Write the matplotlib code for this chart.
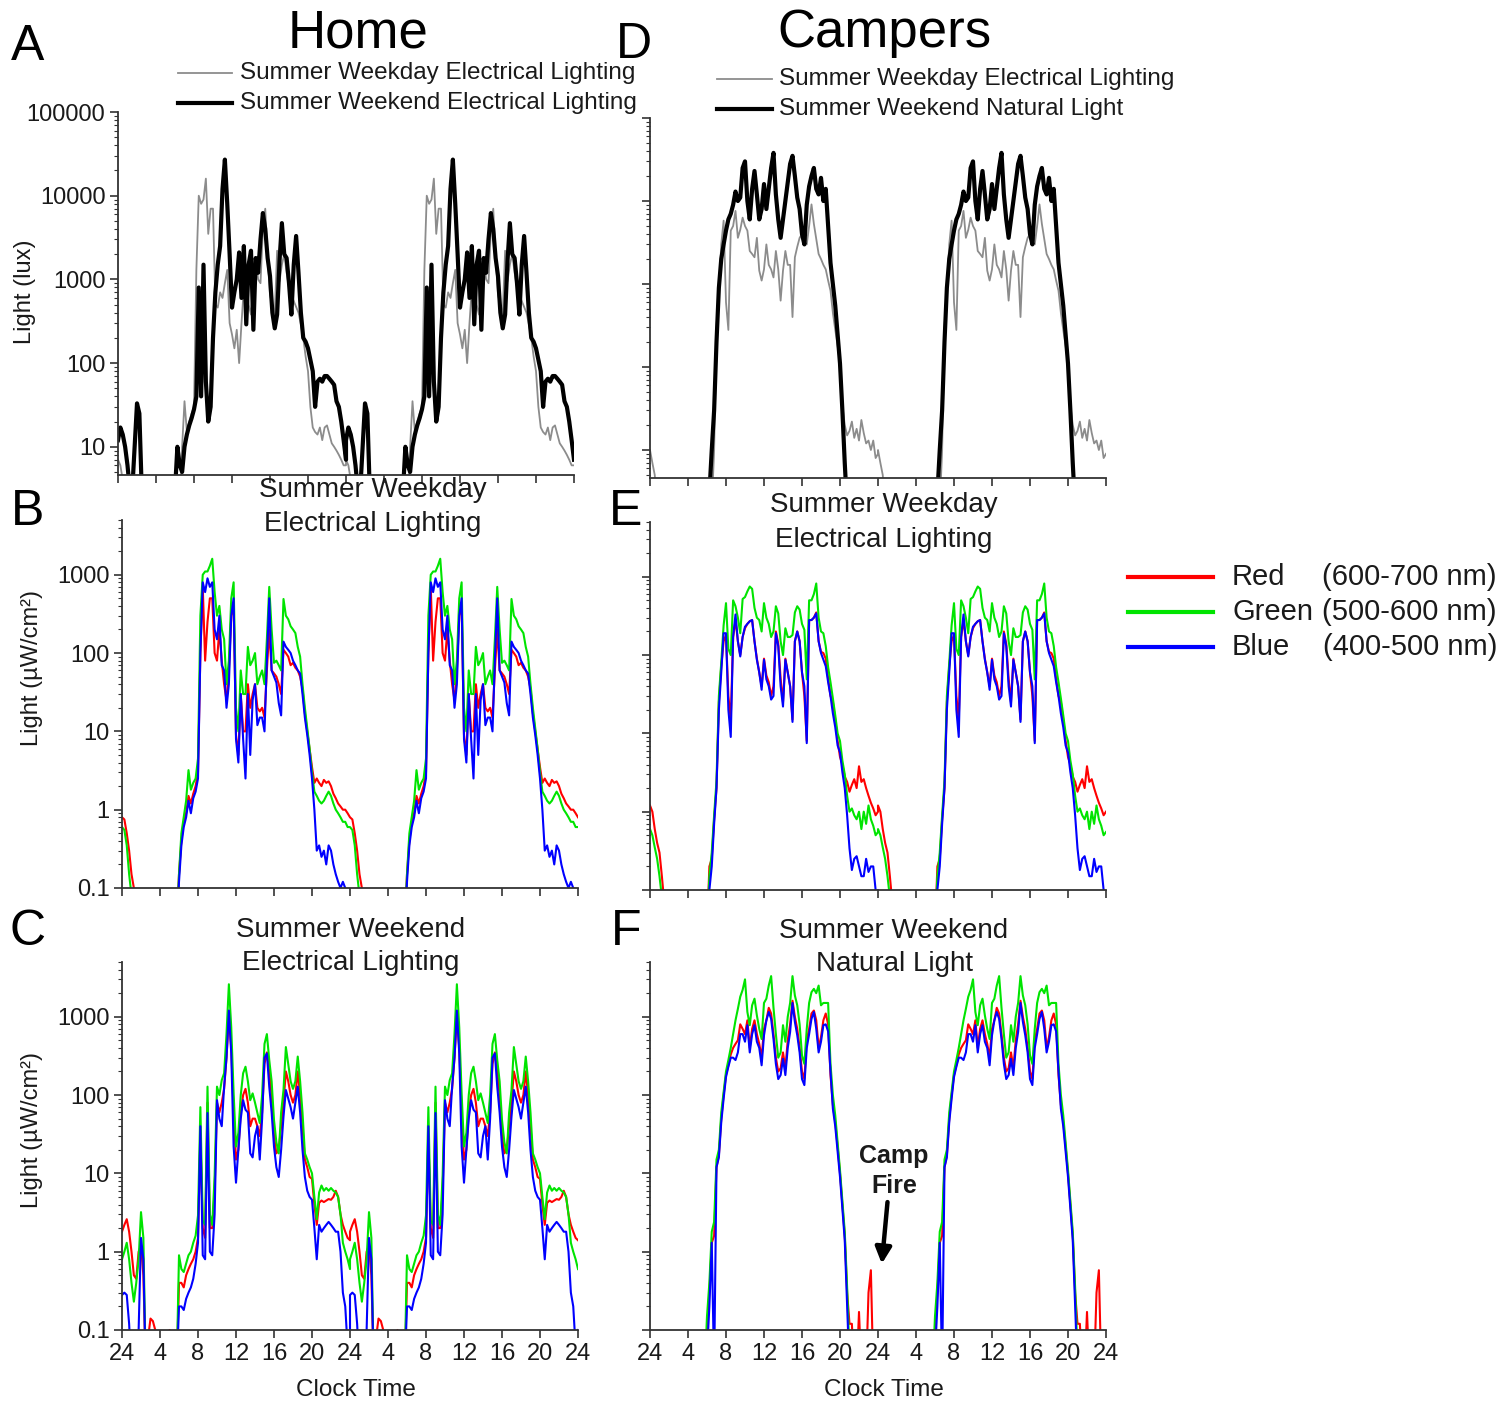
import numpy as np
import matplotlib
matplotlib.use('Agg')
import matplotlib.pyplot as plt
from matplotlib.lines import Line2D
from matplotlib.ticker import LogLocator, NullFormatter, FixedLocator

# ---------------- data (one 24 h profile, 15-min grid, double plotted) -------------
hours = np.arange(97) * 0.25
clock_ticks = [0, 4, 8, 12, 16, 20, 24, 28, 32, 36, 40, 44, 48]
clock_labels = ['24', '4', '8', '12', '16', '20', '24', '4', '8', '12', '16', '20', '24']

# Panel A (Home, lux)
home_weekday_lux = [7, 6, 4, 2, 2, 2, 2, 2,
                    2, 2, 2, 2, 2, 2, 2, 2,
                    2, 2, 2, 2, 2, 2, 2, 2,
                    2, 2, 2, 10, 35, 15, 20, 25,
                    30, 1300, 10000, 8000, 9000, 16000, 3500, 7000,
                    7000, 500, 460, 700, 600, 900, 1300, 300,
                    220, 150, 250, 100, 300, 800, 1100, 500,
                    380, 900, 1800, 1000, 900, 4000, 7000, 1800,
                    650, 500, 380, 2200, 950, 1500, 2000, 1200,
                    800, 650, 550, 470, 400, 290, 200, 120,
                    80, 30, 17, 15, 14, 17, 12, 17,
                    18, 14, 11, 10, 9, 8, 7, 6,
                    6]
home_weekend_lux = [12, 17, 14, 10, 6, 3, 3, 10,
                    33, 25, 3, 2, 2, 2, 2, 2,
                    2, 2, 2, 2, 2, 2, 2, 2,
                    3, 10, 6, 5, 10, 14, 18, 22,
                    28, 40, 800, 40, 1500, 60, 20, 30,
                    200, 700, 1500, 2500, 12000, 27000, 8000, 2000,
                    460, 700, 1000, 2100, 600, 2500, 290, 1500,
                    2200, 250, 1800, 1200, 3000, 6200, 4000, 1800,
                    1100, 400, 260, 380, 1650, 4700, 2000, 1800,
                    900, 380, 1500, 3300, 1200, 400, 200, 180,
                    150, 110, 80, 30, 60, 65, 60, 70,
                    70, 65, 60, 55, 35, 30, 20, 12,
                    7]

# Panel D (Campers, lux)
camp_weekday_lux = [10, 7, 5, 2, 2, 2, 2, 2,
                    2, 2, 2, 2, 2, 2, 2, 2,
                    2, 2, 2, 2, 2, 2, 2, 2,
                    2, 2, 2, 10, 300, 800, 3000, 5800,
                    600, 280, 4400, 5000, 7600, 3600, 4500, 6300,
                    5000, 4400, 2500, 2300, 2100, 3600, 1450, 1100,
                    1500, 3000, 1700, 1500, 1200, 2500, 1500, 630,
                    1450, 2500, 1700, 1700, 400, 2100, 2800, 3600,
                    4000, 4400, 3000, 5000, 9100, 5300, 3500, 2300,
                    2000, 1700, 1500, 1100, 830, 450, 280, 180,
                    110, 35, 20, 15, 17, 22, 14, 18,
                    13, 23, 16, 12, 13, 10, 13, 8,
                    9]
camp_weekend_lux = [2, 2, 2, 2, 2, 2, 2, 2,
                    2, 2, 2, 2, 2, 2, 2, 2,
                    2, 2, 2, 2, 2, 2, 2, 2,
                    2, 3, 10, 30, 200, 900, 2000, 3000,
                    4400, 6000, 7000, 9000, 13000, 10000, 11000, 25000,
                    30000, 10000, 6000, 14000, 23000, 12000, 6000, 8000,
                    16000, 8000, 14000, 25000, 38000, 12000, 6000, 3600,
                    6000, 10000, 17000, 28000, 35000, 20000, 11000, 8000,
                    4000, 3000, 9000, 15000, 20000, 25000, 14000, 12000,
                    19000, 10000, 14000, 5000, 1800, 1000, 550, 250,
                    110, 30, 7, 2, 2, 2, 2, 2,
                    2, 2, 2, 2, 2, 2, 2, 2,
                    2]

# Panel B (Home weekday, uW/cm2)
B_red = [0.8, 0.75, 0.5, 0.3, 0.15, 0.1, 0.03, 0.03,
         0.03, 0.03, 0.03, 0.03, 0.03, 0.03, 0.03, 0.03,
         0.03, 0.03, 0.03, 0.03, 0.03, 0.03, 0.03, 0.03,
         0.15, 0.4, 0.7, 0.9, 1.5, 1.2, 1.6, 2.0,
         3.0, 100, 700, 80, 250, 500, 500, 100,
         80, 200, 80, 40, 25, 60, 300, 400,
         9, 5, 30, 10, 10, 40, 20, 30,
         40, 20, 18, 20, 15, 60, 200, 60,
         55, 50, 40, 30, 110, 100, 90, 70,
         75, 65, 60, 50, 35, 17, 10, 6,
         3.5, 2.2, 2.5, 2.2, 2.0, 2.4, 2.2, 2.3,
         2.0, 1.6, 1.4, 1.2, 1.1, 1.0, 1.0, 0.9,
         0.8]
B_green = [0.6, 0.55, 0.35, 0.15, 0.08, 0.03, 0.03, 0.03,
           0.03, 0.03, 0.03, 0.03, 0.03, 0.03, 0.03, 0.03,
           0.03, 0.03, 0.03, 0.03, 0.03, 0.03, 0.03, 0.03,
           0.15, 0.5, 0.8, 1.3, 3.2, 1.8, 2.2, 2.5,
           4.5, 300, 1000, 1100, 1100, 1300, 1600, 600,
           300, 400, 200, 150, 40, 80, 500, 800,
           20, 10, 60, 30, 30, 120, 70, 80,
           100, 40, 50, 60, 40, 150, 700, 200,
           75, 80, 70, 60, 490, 300, 270, 220,
           200, 180, 120, 90, 40, 20, 11, 6,
           3, 1.7, 1.5, 1.3, 1.2, 1.3, 1.5, 1.7,
           1.5, 1.2, 1.0, 0.9, 0.8, 0.7, 0.7, 0.6,
           0.6]
B_blue = [0.05, 0.03, 0.03, 0.03, 0.03, 0.03, 0.03, 0.03,
          0.03, 0.03, 0.03, 0.03, 0.03, 0.03, 0.03, 0.03,
          0.03, 0.03, 0.03, 0.03, 0.03, 0.03, 0.03, 0.03,
          0.12, 0.35, 0.6, 0.8, 1.3, 0.9, 1.4, 1.7,
          2.5, 100, 800, 600, 900, 700, 800, 200,
          150, 300, 70, 60, 20, 40, 300, 500,
          8, 4, 30, 8, 2.5, 30, 5, 25,
          40, 12, 15, 15, 10, 80, 500, 60,
          50, 42, 23, 16, 140, 120, 110, 100,
          80, 70, 60, 55, 30, 15, 9, 5,
          2.5, 1.0, 0.3, 0.35, 0.25, 0.3, 0.2, 0.35,
          0.3, 0.2, 0.15, 0.12, 0.1, 0.12, 0.1, 0.09,
          0.08]

# Panel E (Campers weekday, uW/cm2)
E_red = [1.2, 1.0, 0.6, 0.4, 0.3, 0.15, 0.07, 0.03,
         0.03, 0.03, 0.03, 0.03, 0.03, 0.03, 0.03, 0.03,
         0.03, 0.03, 0.03, 0.03, 0.03, 0.03, 0.03, 0.03,
         0.03, 0.2, 0.25, 0.8, 2.0, 25, 72, 150,
         180, 30, 15, 170, 280, 150, 100, 170,
         220, 250, 270, 280, 150, 90, 60, 40,
         90, 55, 45, 30, 40, 200, 140, 50,
         25, 90, 60, 40, 15, 150, 200, 150,
         60, 30, 8, 280, 280, 300, 350, 150,
         110, 106, 90, 50, 30, 25, 15, 8,
         5, 4, 2.8, 2.4, 1.8, 2.2, 2.6, 2.0,
         3.8, 2.4, 2.6, 2.0, 1.6, 1.3, 1.1, 0.9,
         1.0]
E_green = [0.6, 0.5, 0.35, 0.25, 0.15, 0.08, 0.03, 0.03,
           0.03, 0.03, 0.03, 0.03, 0.03, 0.03, 0.03, 0.03,
           0.03, 0.03, 0.03, 0.03, 0.03, 0.03, 0.03, 0.03,
           0.03, 0.15, 0.3, 0.9, 2.5, 30, 80, 240,
           460, 120, 100, 500, 420, 300, 190, 520,
           550, 650, 750, 700, 400, 300, 280, 200,
           460, 300, 250, 170, 200, 420, 340, 150,
           100, 220, 170, 170, 180, 350, 420, 380,
           250, 210, 49, 500, 500, 600, 820, 300,
           200, 190, 130, 70, 45, 28, 17, 10,
           8, 4.5, 3, 1.6, 1.0, 1.1, 0.9, 0.8,
           1.0, 0.6, 1.0, 0.7, 1.2, 0.8, 0.66, 0.5,
           0.55]
E_blue = [0.1, 0.03, 0.03, 0.03, 0.03, 0.03, 0.03, 0.03,
          0.03, 0.03, 0.03, 0.03, 0.03, 0.03, 0.03, 0.03,
          0.03, 0.03, 0.03, 0.03, 0.03, 0.03, 0.03, 0.03,
          0.03, 0.1, 0.2, 0.7, 2.0, 20, 60, 190,
          190, 20, 9, 170, 330, 150, 96, 170,
          230, 250, 270, 280, 150, 87, 60, 36,
          87, 49, 40, 27, 30, 190, 130, 40,
          22, 87, 60, 40, 14, 150, 200, 150,
          60, 40, 7.5, 280, 280, 300, 340, 150,
          106, 87, 72, 45, 30, 18, 12, 7,
          5.7, 3.2, 2.0, 0.9, 0.34, 0.18, 0.25, 0.27,
          0.2, 0.15, 0.15, 0.25, 0.17, 0.2, 0.2, 0.1,
          0.08]

# Panel C (Home weekend, uW/cm2)
C_red = [1.8, 2.2, 2.6, 1.8, 1.0, 0.5, 0.45, 1.0,
         1.2, 0.5, 0.03, 0.08, 0.14, 0.13, 0.1, 0.07,
         0.03, 0.03, 0.03, 0.03, 0.1, 0.03, 0.03, 0.03,
         0.4, 0.4, 0.35, 0.5, 0.6, 0.7, 0.8, 1.0,
         1.5, 30, 2.0, 1.5, 80, 2.0, 2.0, 6,
         80, 60, 80, 120, 300, 1000, 400, 60,
         15, 20, 60, 100, 120, 80, 40, 50,
         50, 40, 30, 60, 250, 350, 200, 100,
         30, 18, 20, 40, 80, 200, 150, 100,
         80, 100, 200, 100, 40, 15, 12, 9,
         8.5, 4, 2.2, 4.2, 4.5, 4.3, 4.5, 4.7,
         4.6, 5, 6, 5, 3, 2.2, 1.8, 1.5,
         1.4]
C_green = [0.8, 1.0, 1.3, 0.8, 0.4, 0.23, 0.4, 0.8,
           3.2, 1.5, 0.03, 0.03, 0.03, 0.03, 0.03, 0.03,
           0.03, 0.03, 0.03, 0.03, 0.03, 0.03, 0.03, 0.03,
           0.9, 0.6, 0.55, 0.7, 0.9, 1.0, 1.3, 1.6,
           2.9, 70, 2.5, 2.2, 128, 3.0, 2.2, 9.3,
           128, 100, 155, 190, 600, 2600, 730, 105,
           22, 33, 100, 190, 230, 150, 86, 105,
           80, 59, 44, 100, 450, 600, 280, 150,
           48, 25, 18, 60, 116, 410, 250, 150,
           120, 150, 310, 150, 60, 18, 15, 12,
           10, 5, 2.6, 5.7, 7, 6, 6.5, 6,
           6.5, 6, 5.7, 5, 3, 1.3, 1.0, 0.8,
           0.6]
C_blue = [0.28, 0.3, 0.28, 0.12, 0.03, 0.03, 0.03, 0.1,
          1.5, 0.8, 0.03, 0.03, 0.03, 0.03, 0.03, 0.03,
          0.03, 0.03, 0.03, 0.03, 0.03, 0.03, 0.03, 0.03,
          0.2, 0.2, 0.18, 0.25, 0.3, 0.35, 0.45, 0.7,
          1.3, 40, 0.9, 0.8, 59, 1.0, 0.9, 3,
          86, 50, 40, 128, 300, 1200, 340, 22,
          7.6, 20, 50, 86, 65, 60, 18, 16,
          30, 40, 15, 50, 300, 340, 128, 60,
          22, 12, 9, 20, 53, 116, 90, 70,
          50, 80, 128, 60, 20, 9, 6, 5,
          4.6, 2, 0.8, 2.2, 1.8, 2.0, 2.2, 2.4,
          2.2, 2.0, 1.8, 1.8, 1.0, 0.3, 0.2, 0.06,
          0.1]

# Panel F (Campers weekend, natural light, uW/cm2)
F_red = [0.03, 0.03, 0.03, 0.03, 0.03, 0.03, 0.03, 0.03,
         0.03, 0.03, 0.03, 0.03, 0.03, 0.03, 0.03, 0.03,
         0.03, 0.03, 0.03, 0.03, 0.03, 0.03, 0.03, 0.03,
         0.1, 0.3, 1.3, 1.6, 12, 17, 50, 100,
         180, 240, 330, 400, 450, 500, 800, 700,
         600, 900, 400, 700, 900, 600, 450, 300,
         700, 900, 1300, 1100, 600, 300, 200, 220,
         350, 220, 500, 800, 1600, 1000, 700, 400,
         200, 160, 500, 700, 1100, 1200, 900, 400,
         550, 900, 1100, 800, 180, 75, 45, 22,
         10, 4, 1.6, 0.3, 0.12, 0.12, 0.03, 0.03,
         0.17, 0.03, 0.03, 0.03, 0.3, 0.58, 0.03, 0.03,
         0.03]
F_green = [0.03, 0.03, 0.03, 0.03, 0.03, 0.03, 0.03, 0.03,
           0.03, 0.03, 0.03, 0.03, 0.03, 0.03, 0.03, 0.03,
           0.03, 0.03, 0.03, 0.03, 0.03, 0.03, 0.03, 0.03,
           0.15, 0.4, 1.8, 2.4, 15, 20, 60, 110,
           200, 280, 400, 600, 900, 1260, 1800, 2200,
           3000, 1150, 780, 1400, 1700, 1040, 700, 520,
           1500, 1700, 2500, 3300, 1300, 600, 300, 350,
           780, 480, 1000, 1500, 3300, 1870, 1400, 800,
           320, 250, 700, 1500, 2060, 2270, 2000, 2500,
           1400, 1500, 1500, 1500, 250, 100, 55, 25,
           11, 4.5, 1.8, 0.35, 0.05, 0.03, 0.03, 0.03,
           0.03, 0.03, 0.03, 0.03, 0.03, 0.03, 0.03, 0.03,
           0.03]
F_blue = [0.03, 0.03, 0.03, 0.03, 0.03, 0.03, 0.03, 0.03,
          0.03, 0.03, 0.03, 0.03, 0.03, 0.03, 0.03, 0.03,
          0.03, 0.03, 0.03, 0.03, 0.03, 0.03, 0.03, 0.03,
          0.05, 0.2, 1.3, 0.03, 12, 16, 45, 90,
          170, 230, 300, 300, 280, 350, 600, 600,
          480, 780, 350, 600, 780, 480, 400, 240,
          580, 900, 1150, 940, 520, 250, 160, 180,
          290, 180, 400, 640, 1500, 860, 580, 350,
          160, 134, 400, 600, 940, 1150, 700, 350,
          480, 780, 800, 650, 200, 67, 40, 19,
          9, 3.5, 1.4, 0.2, 0.03, 0.03, 0.03, 0.03,
          0.03, 0.03, 0.03, 0.03, 0.03, 0.03, 0.03, 0.03,
          0.03]

legend_lux_home = ['Summer Weekday Electrical Lighting', 'Summer Weekend Electrical Lighting']
legend_lux_camp = ['Summer Weekday Electrical Lighting', 'Summer Weekend Natural Light']
band_names = ['Red', 'Green', 'Blue']
band_ranges = ['(600-700 nm)', '(500-600 nm)', '(400-500 nm)']
band_colors = ['#ff0000', '#00e400', '#0000ff']

# ---------------- drawing ----------------
plt.rcParams['font.family'] = ['Liberation Sans', 'DejaVu Sans']
TXT = '#1a1a1a'
W, H = 1502, 1401
fig = plt.figure(figsize=(W / 100, H / 100), dpi=100)


def fx(x):
    return x / W


def fy(y):
    return 1 - y / H


def make_axes(l, t, r, b):
    return fig.add_axes([fx(l), fy(b), (r - l) / W, (b - t) / H])


def tile(v):
    v = np.asarray(v, float)
    return np.concatenate([hours, hours + 24]), np.concatenate([v, v])


def style(ax, ylim, yticks, ylabels, show_x):
    ax.set_yscale('log')
    ax.set_xlim(0, 48)
    ax.set_ylim(*ylim)
    for s in ['top', 'right']:
        ax.spines[s].set_visible(False)
    for s in ['left', 'bottom']:
        ax.spines[s].set_linewidth(1.3)
        ax.spines[s].set_color('#333333')
    ax.set_xticks(clock_ticks)
    ax.set_xticklabels(clock_labels if show_x else [])
    ax.yaxis.set_major_locator(FixedLocator(yticks))
    ax.yaxis.set_minor_locator(LogLocator(base=10, subs=np.arange(2, 10), numticks=60))
    ax.yaxis.set_minor_formatter(NullFormatter())
    ax.set_yticklabels(ylabels if ylabels else [])
    ax.tick_params(axis='both', which='major', direction='out', length=6, width=1.2,
                   color='#333333', labelsize=17, labelcolor=TXT, pad=3)
    ax.tick_params(axis='y', which='minor', direction='out', length=3, width=0.8,
                   color='#333333')
    ax.set_facecolor('none')


lux_ticks = [10, 100, 1000, 10000, 100000]
lux_labels = ['10', '100', '1000', '10000', '100000']
rgb_ticks = [0.1, 1, 10, 100, 1000]
rgb_labels = ['0.1', '1', '10', '100', '1000']

# A
axA = make_axes(118, 112, 574, 475)
x, y = tile(home_weekday_lux)
axA.plot(x, y, color='#8c8c8c', lw=1.3)
x, y = tile(home_weekend_lux)
axA.plot(x, y, color='black', lw=3.0)
style(axA, (4.6, 1e5), lux_ticks, lux_labels, False)

# D
axD = make_axes(650, 118, 1106, 478)
x, y = tile(camp_weekday_lux)
axD.plot(x, y, color='#8c8c8c', lw=1.3)
x, y = tile(camp_weekend_lux)
axD.plot(x, y, color='black', lw=3.0)
style(axD, (4.6, 1e5), lux_ticks, None, False)


def rgb_panel(l, t, r, b, series, ylabels, show_x):
    ax = make_axes(l, t, r, b)
    for vals, c in zip(series, band_colors):
        xx, yy = tile(vals)
        ax.plot(xx, yy, color=c, lw=1.5)
    style(ax, (0.1, 5000), rgb_ticks, ylabels, show_x)
    return ax


axB = rgb_panel(122, 520, 578, 888, [B_red, B_green, B_blue], rgb_labels, False)
axE = rgb_panel(650, 522, 1106, 890, [E_red, E_green, E_blue], None, False)
axC = rgb_panel(122, 962, 578, 1330, [C_red, C_green, C_blue], rgb_labels, True)
axF = rgb_panel(650, 962, 1106, 1330, [F_red, F_green, F_blue], None, True)

# Camp fire annotation
axF.text(25.7, 16.5, 'Camp', ha='center', va='center', fontsize=18, fontweight='bold', color=TXT)
axF.text(25.7, 6.8, 'Fire', ha='center', va='center', fontsize=18, fontweight='bold', color=TXT)
axF.annotate('', xy=(24.4, 0.7), xytext=(25.0, 4.3),
             arrowprops=dict(arrowstyle='-|>', lw=3.2, color='black', mutation_scale=24,
                             shrinkA=0, shrinkB=0))

# titles, letters, labels
fig.text(fx(358), fy(33), 'Home', ha='center', va='center', fontsize=38, color='black')
fig.text(fx(884), fy(33), 'Campers', ha='center', va='center', fontsize=38, color='black')
for letter, px, py in [('A', 28, 47), ('D', 634, 45), ('B', 28, 512),
                       ('E', 626, 512), ('C', 28, 932), ('F', 626, 932)]:
    fig.text(fx(px), fy(py), letter, ha='center', va='center', fontsize=36, color='black')

fig.text(fx(25), fy(292), 'Light (lux)', rotation=90, ha='center', va='center', fontsize=17, color=TXT)
fig.text(fx(32), fy(668), 'Light (\u00b5W/cm\u00b2)', rotation=90, ha='center', va='center', fontsize=17, color=TXT)
fig.text(fx(32), fy(1130), 'Light (\u00b5W/cm\u00b2)', rotation=90, ha='center', va='center', fontsize=17, color=TXT)
fig.text(fx(356), fy(1390), 'Clock Time', ha='center', va='center', fontsize=17.5, color=TXT)
fig.text(fx(884), fy(1390), 'Clock Time', ha='center', va='center', fontsize=17.5, color=TXT)

for (cx, y1, y2, s1, s2) in [(373, 490, 524, 'Summer Weekday', 'Electrical Lighting'),
                             (884, 505, 540, 'Summer Weekday', 'Electrical Lighting'),
                             (351, 930, 963, 'Summer Weekend', 'Electrical Lighting'),
                             (894, 931, 964, 'Summer Weekend', 'Natural Light')]:
    fig.text(fx(cx), fy(y1), s1, ha='center', va='center', fontsize=20, color=TXT)
    fig.text(fx(cx), fy(y2), s2, ha='center', va='center', fontsize=20, color=TXT)

# lux legends
for (x0, x1, tx, ys, labels) in [(178, 232, 240, (73, 103), legend_lux_home),
                                 (717, 772, 779, (79, 109), legend_lux_camp)]:
    fig.add_artist(Line2D([fx(x0), fx(x1)], [fy(ys[0]), fy(ys[0])], transform=fig.transFigure,
                          color='#8c8c8c', lw=1.3))
    fig.add_artist(Line2D([fx(x0), fx(x1)], [fy(ys[1]), fy(ys[1])], transform=fig.transFigure,
                          color='black', lw=3.0))
    fig.text(fx(tx), fy(ys[0]), labels[0], ha='left', va='center', fontsize=17.5, color=TXT)
    fig.text(fx(tx), fy(ys[1]), labels[1], ha='left', va='center', fontsize=17.5, color=TXT)

# RGB legend
for name, rng, c, yy in zip(band_names, band_ranges, band_colors, [577, 612, 647]):
    fig.add_artist(Line2D([fx(1128), fx(1213)], [fy(yy), fy(yy)], transform=fig.transFigure,
                          color=c, lw=3.0))
    fig.text(fx(1232), fy(yy), name, ha='left', va='center', fontsize=21, color=TXT)
    fig.text(fx(1497), fy(yy), rng, ha='right', va='center', fontsize=21, color=TXT)

fig.savefig('out.png', dpi=100)
